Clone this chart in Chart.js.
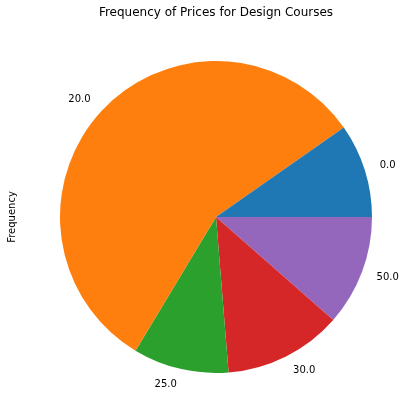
<!DOCTYPE html>
<html>
<head>
<meta charset="utf-8">
<script src="https://cdn.jsdelivr.net/npm/chart.js@4/dist/chart.umd.min.js"></script>
<style>
  html, body { margin: 0; padding: 0; background: #fff; }
  canvas { display: block; }
</style>
</head>
<body>
<canvas id="pieChart" width="418" height="420"></canvas>
<script>
// price categories and how often they appear
const priceLabels = ['0.0', '20.0', '25.0', '30.0', '50.0'];
const priceCounts = [10, 58.3, 10.2, 12.6, 11.8];
const sliceColors = ['#1f77b4', '#ff7f0e', '#2ca02c', '#d62728', '#9467bd'];

const chartTitle = 'Frequency of Prices for Design Courses';
const yAxisLabel = 'Frequency';

// matplotlib goes counter-clockwise from 3 o'clock, Chart.js clockwise -> reverse
const labelsRev = priceLabels.slice().reverse();
const countsRev = priceCounts.slice().reverse();
const colorsRev = sliceColors.slice().reverse();

const FONT = '"DejaVu Sans", sans-serif';

// outside labels, title and y label drawn like matplotlib
const pieTextPlugin = {
    id: 'pieText',
    afterDraw(chart) {
        const ctx = chart.ctx;
        const meta = chart.getDatasetMeta(0);
        ctx.save();
        ctx.fillStyle = '#000';
        ctx.font = '10px ' + FONT;
        ctx.textBaseline = 'middle';
        meta.data.forEach(function(arc, i) {
            const mid = (arc.startAngle + arc.endAngle) / 2;
            const r = arc.outerRadius * 1.1;
            const x = arc.x + r * Math.cos(mid);
            const y = arc.y + r * Math.sin(mid);
            ctx.textAlign = Math.cos(mid) >= 0 ? 'left' : 'right';
            ctx.fillText(chart.data.labels[i], x, y);
        });

        // title
        ctx.font = '12px ' + FONT;
        ctx.textAlign = 'center';
        ctx.fillText(chartTitle, 216, 13);

        // y label
        ctx.font = '10px ' + FONT;
        ctx.translate(12, 217);
        ctx.rotate(-Math.PI / 2);
        ctx.fillText(yAxisLabel, 0, 0);
        ctx.restore();
    }
};

const ctx = document.getElementById('pieChart').getContext('2d');
const pieChart = new Chart(ctx, {
    type: 'pie',
    data: {
        labels: labelsRev,
        datasets: [{
            data: countsRev,
            backgroundColor: colorsRev,
            borderWidth: 0
        }]
    },
    options: {
        responsive: false,
        animation: false,
        rotation: 90,
        layout: {
            padding: { left: 60, right: 46, top: 61, bottom: 47 }
        },
        plugins: {
            legend: { display: false },
            title: { display: false },
            tooltip: { enabled: false }
        }
    },
    plugins: [pieTextPlugin]
});
</script>
</body>
</html>
